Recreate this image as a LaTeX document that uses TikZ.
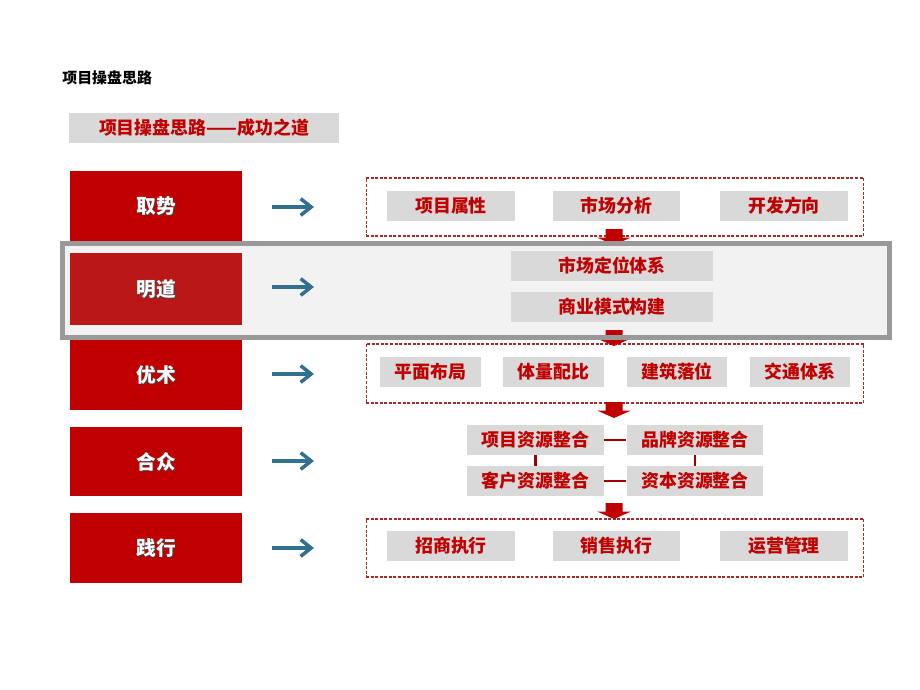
\documentclass[tikz,border=0pt]{standalone}
\usepackage{fontspec}
\setmainfont{Noto Sans CJK SC}
\usetikzlibrary{arrows.meta}
\definecolor{dred}{HTML}{C00000}
\definecolor{mred}{HTML}{BA1717}
\definecolor{lgray}{HTML}{D9D9D9}
\definecolor{fgray}{HTML}{F2F2F2}
\definecolor{bgray}{HTML}{999999}
\definecolor{teal}{HTML}{31708E}
\definecolor{lred}{HTML}{A00000}
\definecolor{dashred}{HTML}{A52A2A}
\tikzset{
  leftbox/.style={fill=dred, minimum width=3.44cm, minimum height=1.4cm, inner sep=0pt},
  lefttext/.style={text=white, font=\fontsize{11.2pt}{12pt}\selectfont\bfseries},
  leftshadow/.style={text=black!75, font=\fontsize{11.2pt}{12pt}\selectfont\bfseries},
  graybox/.style={fill=lgray, minimum height=0.6cm, inner sep=0pt, text=dred, font=\fontsize{10.2pt}{11pt}\selectfont\bfseries},
  dashbox/.style={draw=dashred, dash pattern=on 1.7pt off 0.9pt, line width=0.6pt, minimum width=9.96cm, inner sep=0pt},
  tealarrow/.style={draw=teal, line width=2pt, -{Straight Barb[length=6pt,width=9.5pt,line width=2pt]}},
  linkline/.style={draw=lred, line width=1.2pt},
  downarrow/.style={fill=dred},
}
\begin{document}
\begin{tikzpicture}[x=0.02cm,y=-0.02cm]
\useasboundingbox (0,0) rectangle (920,690);
% title
\node[anchor=west, inner sep=0pt, font=\fontsize{8.5pt}{9pt}\selectfont\bfseries] (title) at (62,78) {项目操盘思路};
\node[fill=lgray, minimum width=5.4cm, minimum height=0.6cm, inner sep=0pt, text=dred, font=\fontsize{10.2pt}{11pt}\selectfont\bfseries] (sub) at (204,128) {项目操盘思路——成功之道};

% frame fill
\fill[fgray] (62.5,243.5) rectangle (889,337);

% left boxes
\node[leftbox] (qs) at (156,206) {};
\node[leftbox, fill=mred, minimum height=1.44cm] (md) at (156,289) {};
\node[leftbox] (ys) at (156,375) {};
\node[leftbox] (hz) at (156,461.5) {};
\node[leftbox] (jx) at (156,548) {};
\foreach \n/\t/\y in {qs/取势/206, md/明道/289, ys/优术/375, hz/合众/461.5, jx/践行/548}{
  \node[leftshadow] (\n s) at (157.2,\y+1.2) {\t};
  \node[lefttext] (\n t) at (156,\y) {\t};
}

% teal arrows
\foreach \n/\y in {a1/207, a2/287, a3/374, a4/461, a5/548}{
  \coordinate (\n s) at (272,\y);
  \coordinate (\n e) at (314,\y);
  \draw[tealarrow] (\n s) -- (\n e);
}

% dashed boxes
\node[dashbox, minimum height=1.16cm] (d1) at (615,207) {};
\node[dashbox, minimum height=1.18cm] (d3) at (615,373.5) {};
\node[dashbox, minimum height=1.16cm] (d5) at (615,548) {};

% row 1
\node[graybox, minimum width=2.56cm] (r11) at (451,206) {项目属性};
\node[graybox, minimum width=2.56cm] (r12) at (616.5,206) {市场分析};
\node[graybox, minimum width=2.56cm] (r13) at (784,206) {开发方向};

% row 2
\node[graybox, minimum width=4.04cm] (r21) at (612,266) {市场定位体系};
\node[graybox, minimum width=4.04cm] (r22) at (612,307) {商业模式构建};

% row 3
\node[graybox, minimum width=2.02cm] (r31) at (430.5,372) {平面布局};
\node[graybox, minimum width=2.02cm] (r32) at (553.5,372) {体量配比};
\node[graybox, minimum width=2.02cm] (r33) at (677,372) {建筑落位};
\node[graybox, minimum width=2.02cm] (r34) at (800,372) {交通体系};

% row 4
\node[graybox, minimum width=2.74cm] (r41) at (535.5,440) {项目资源整合};
\node[graybox, minimum width=2.74cm] (r42) at (695,440) {品牌资源整合};
\node[graybox, minimum width=2.74cm] (r43) at (535.5,481) {客户资源整合};
\node[graybox, minimum width=2.74cm] (r44) at (695,481) {资本资源整合};
\draw[linkline] (r41.east) -- (r42.west);
\draw[linkline] (r43.east) -- (r44.west);
\draw[linkline] (r41.south) -- (r43.north);
\draw[linkline] (r42.south) -- (r44.north);

% row 5
\node[graybox, minimum width=2.56cm] (r51) at (451,546) {招商执行};
\node[graybox, minimum width=2.56cm] (r52) at (616.5,546) {销售执行};
\node[graybox, minimum width=2.56cm] (r53) at (784,546) {运营管理};

% down arrows
\foreach \n/\y in {b1/229, b2/330, b3/402, b4/503}{
  \coordinate (\n) at (614,\y);
  \fill[downarrow] ([xshift=-8.5*0.02cm]\n) -- ++(17,0) -- ++(0,8.5) -- ++(8.5,0) -- ++(-17,7.5) -- ++(-17,-7.5) -- ++(8.5,0) -- cycle;
}

% frame border
\draw[bgray, line width=0.1cm] (62.5,243.5) rectangle (889,337);
\end{tikzpicture}
\end{document}
